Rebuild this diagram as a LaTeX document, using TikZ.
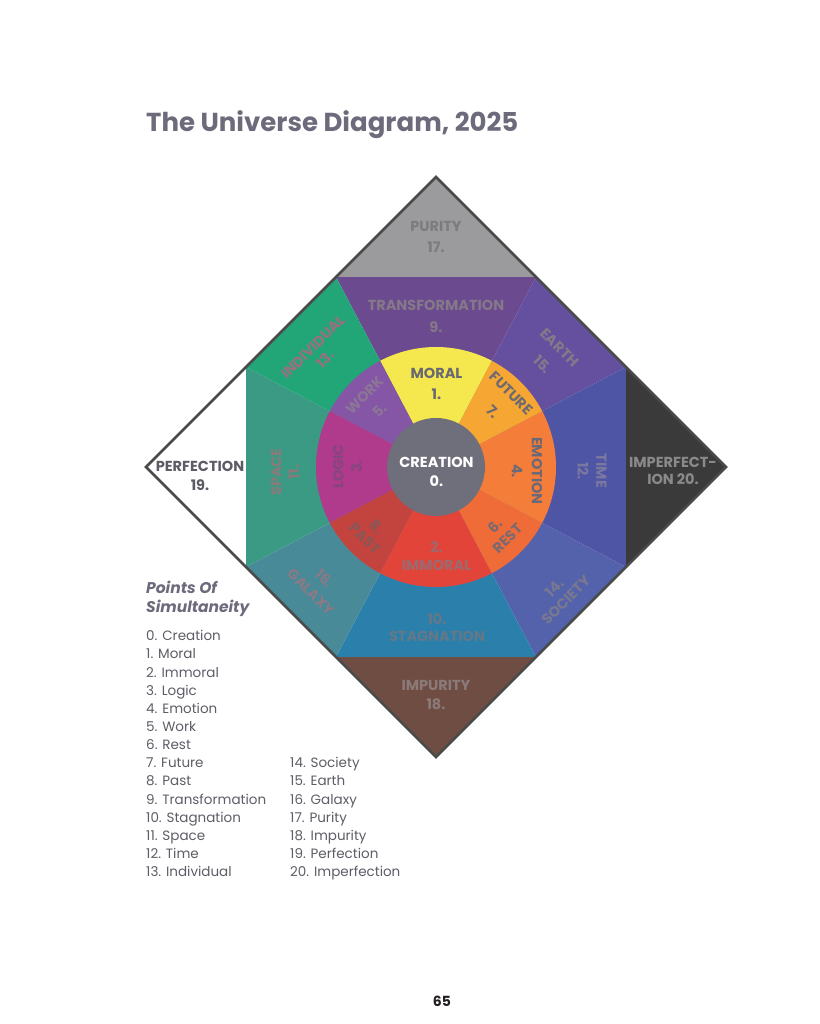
\documentclass[tikz,border=0pt]{standalone}
\usepackage{fontspec}
\setmainfont{Poppins}
\definecolor{cTitle}{HTML}{6D6A7B}
\definecolor{cBor}{HTML}{4A4A4A}
\definecolor{cPur}{HTML}{9B9A9C}
\definecolor{cTra}{HTML}{6B4A8F}
\definecolor{cEar}{HTML}{6550A0}
\definecolor{cTim}{HTML}{4F55A5}
\definecolor{cImf}{HTML}{3A3A3A}
\definecolor{cSoc}{HTML}{5362AB}
\definecolor{cSta}{HTML}{2A7FAB}
\definecolor{cGal}{HTML}{488A98}
\definecolor{cIpu}{HTML}{704D42}
\definecolor{cSpa}{HTML}{3A9A84}
\definecolor{cInd}{HTML}{22A678}
\definecolor{cMor}{HTML}{F4E84E}
\definecolor{cFut}{HTML}{F6A733}
\definecolor{cEmo}{HTML}{F47D3A}
\definecolor{cRes}{HTML}{EF6B38}
\definecolor{cImm}{HTML}{E3443A}
\definecolor{cPas}{HTML}{C3443F}
\definecolor{cLog}{HTML}{B03A8B}
\definecolor{cWor}{HTML}{8456A5}
\definecolor{cCre}{HTML}{6F6E7B}
\definecolor{lblout}{HTML}{857888}
\definecolor{lblin}{HTML}{6B6877}
\definecolor{legtxt}{HTML}{5F5C66}
\definecolor{tPur}{HTML}{7C7B80}
\definecolor{tTim}{HTML}{7A78A0}
\definecolor{tImf}{HTML}{8A8A8A}
\definecolor{tSoc}{HTML}{7A7890}
\definecolor{tSta}{HTML}{657888}
\definecolor{tGal}{HTML}{8A7A85}
\definecolor{tIpu}{HTML}{8A7A7A}
\definecolor{tPer}{HTML}{5E5B66}
\definecolor{tSpa}{HTML}{8A7A7A}
\definecolor{tInd}{HTML}{9A7080}
\definecolor{tMor}{HTML}{6A6870}
\definecolor{tFut}{HTML}{6E6A70}
\definecolor{tRes}{HTML}{7A6A70}
\definecolor{tImm}{HTML}{9C6A6E}
\definecolor{tPas}{HTML}{8A5656}
\definecolor{tLog}{HTML}{854680}
\definecolor{tWor}{HTML}{8C7696}
\definecolor{tPg}{HTML}{231F20}
\begin{document}
\begin{tikzpicture}[x=1pt,y=1pt,
  lbl/.style={font=\bfseries\fontsize{14.5}{#1}\selectfont, align=center, inner sep=0pt, text=lblout},
  ilbl/.style={font=\bfseries\fontsize{14.5}{#1}\selectfont, align=center, inner sep=0pt, text=lblin},
  leg/.style={font=\fontsize{13.5}{16}\selectfont, anchor=base west, inner sep=0pt, text=legtxt},
  leghead/.style={font=\bfseries\itshape\fontsize{15.5}{18}\selectfont, text=cTitle, anchor=base west, inner sep=0pt},
]
\useasboundingbox (-436,-557) rectangle (383,467);
\fill[white] (-436,-557) rectangle (383,467);

% outer sectors
\fill[cTra] (0,0) -- (100,190) -- (-100,190) -- cycle;
\fill[cEar] (0,0) -- (190,100) -- (100,190) -- cycle;
\fill[cTim] (0,0) -- (190,-100) -- (190,100) -- cycle;
\fill[cSoc] (0,0) -- (100,-190) -- (190,-100) -- cycle;
\fill[cSta] (0,0) -- (-100,-190) -- (100,-190) -- cycle;
\fill[cGal] (0,0) -- (-190,-100) -- (-100,-190) -- cycle;
\fill[cSpa] (0,0) -- (-190,100) -- (-190,-100) -- cycle;
\fill[cInd] (0,0) -- (-100,190) -- (-190,100) -- cycle;
% corner triangles
\fill[cPur] (0,290) -- (100,190) -- (-100,190) -- cycle;
\fill[cImf] (290,0) -- (190,100) -- (190,-100) -- cycle;
\fill[cIpu] (0,-290) -- (-100,-190) -- (100,-190) -- cycle;
\fill[white] (-290,0) -- (-190,100) -- (-190,-100) -- cycle;

% inner ring
\fill[cMor] (0,0) -- (62.24:120) arc[start angle=62.24,end angle=117.76,radius=120] -- cycle;
\fill[cWor] (0,0) -- (117.76:120) arc[start angle=117.76,end angle=152.24,radius=120] -- cycle;
\fill[cLog] (0,0) -- (152.24:120) arc[start angle=152.24,end angle=207.76,radius=120] -- cycle;
\fill[cPas] (0,0) -- (207.76:120) arc[start angle=207.76,end angle=242.24,radius=120] -- cycle;
\fill[cImm] (0,0) -- (242.24:120) arc[start angle=242.24,end angle=297.76,radius=120] -- cycle;
\fill[cRes] (0,0) -- (297.76:120) arc[start angle=297.76,end angle=332.24,radius=120] -- cycle;
\fill[cEmo] (0,0) -- (-27.76:120) arc[start angle=-27.76,end angle=27.76,radius=120] -- cycle;
\fill[cFut] (0,0) -- (27.76:120) arc[start angle=27.76,end angle=62.24,radius=120] -- cycle;
\fill[cCre] (0,0) circle[radius=49];

% diamond border
\draw[cBor, line width=2.8pt, line join=miter] (0,290) -- (290,0) -- (0,-290) -- (-290,0) -- cycle;

% outer labels
\node[lbl=20.6, text=tPur] (pur) at (0,230) {PURITY\\17.};
\node[lbl=22] (tra) at (0,151) {TRANSFORMATION\\9.};
\node[lbl=24, rotate=-45] (ear) at (115,111) {EARTH\\15.};
\node[lbl=18.7, rotate=-90, text=tTim] (tim) at (156,-4) {TIME\\12.};
\node[lbl=16.8, text=tImf] (imf) at (237,-4) {IMPERFECT-\\ION 20.};
\node[lbl=16.5, rotate=45, text=tSoc] (soc) at (124,-127) {14.\\SOCIETY};
\node[lbl=16.8, text=tSta] (sta) at (1,-161) {10.\\STAGNATION};
\node[lbl=18.9, rotate=-45, text=tGal] (gal) at (-118,-118) {16.\\GALAXY};
\node[lbl=19, text=tIpu] (ipu) at (0,-228) {IMPURITY\\18.};
\node[lbl=18.3, text=tPer] (per) at (-236,-9) {PERFECTION\\19.};
\node[lbl=17.5, rotate=90, text=tSpa] (spa) at (-151,-5) {SPACE\\11.};
\node[lbl=17, rotate=45, text=tInd] (ind) at (-117,114) {INDIVIDUAL\\13.};

% inner labels
\node[ilbl=21.7, text=tMor] (mor) at (0.5,83) {MORAL\\1.};
\node[ilbl=26, rotate=-45, text=tFut] (fut) at (66,64.5) {FUTURE\\7.};
\node[ilbl=20, rotate=-90] (emo) at (91,-4) {EMOTION\\4.};
\node[ilbl=17.7, rotate=45, text=tRes] (res) at (65,-65) {6.\\REST};
\node[ilbl=18.3, text=tImm] (imm) at (0.5,-89) {2.\\IMMORAL};
\node[ilbl=16, rotate=-45, text=tPas] (pas) at (-65,-65.5) {8.\\PAST};
\node[ilbl=18.4, rotate=90, text=tLog] (log) at (-88.5,0.5) {LOGIC\\3.};
\node[ilbl=21, rotate=45, text=tWor] (wor) at (-64,64) {WORK\\5.};
\node[ilbl=19, text=white] (cre) at (0.5,-5) {CREATION\\0.};

% title
\node[font=\bfseries\fontsize{26}{30}\selectfont, text=cTitle, anchor=base west, inner sep=0pt] (title) at (-290,335.3) {The Universe Diagram, 2025};

% legend
\node[leghead] (lh1) at (-290,-127) {Points Of};
\node[leghead] (lh2) at (-290,-146) {Simultaneity};
\foreach \i/\t in {0/Creation,1/Moral,2/Immoral,3/Logic,4/Emotion,5/Work,6/Rest,7/Future,8/Past,9/Transformation,10/Stagnation,11/Space,12/Time,13/Individual}{
  \node[leg] (la\i) at (-290,{-173.7-18.15*\i}) {\i. \t};
}
\foreach \i/\t in {14/Society,15/Earth,16/Galaxy,17/Purity,18/Impurity,19/Perfection,20/Imperfection}{
  \node[leg] (lb\i) at (-146,{-173.7-18.15*(\i-7)}) {\i. \t};
}

% page number
\node[font=\bfseries\fontsize{14}{16}\selectfont, text=tPg, inner sep=0pt] (pg) at (6,-534.7) {65};
\end{tikzpicture}
\end{document}
